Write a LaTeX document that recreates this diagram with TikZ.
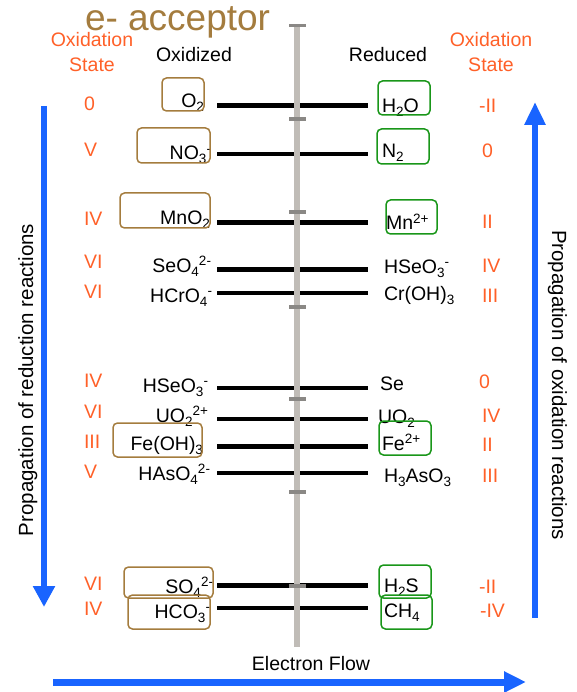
\documentclass[tikz,border=0pt]{standalone}
\usepackage{fontspec}
\usepackage{graphicx}
\setmainfont{Liberation Sans}
\usetikzlibrary{arrows.meta}
\definecolor{orng}{RGB}{255,96,40}
\definecolor{brn}{RGB}{164,124,62}
\definecolor{grn}{RGB}{25,150,25}
\definecolor{blu}{RGB}{25,100,255}
\definecolor{bargray}{RGB}{192,188,183}
\definecolor{tickgray}{RGB}{138,136,133}
\newcommand{\sbx}[1]{\raisebox{-4pt}{\fontsize{13.5}{14}\selectfont #1}}
\newcommand{\spx}[1]{\raisebox{6.5pt}{\fontsize{13.5}{14}\selectfont #1}}
\begin{document}
\begin{tikzpicture}[x=1pt,y=-1pt,
  txt/.style={inner sep=0pt, outer sep=0pt, font=\fontsize{19.5}{20}\selectfont},
  lsp/.style={txt, anchor=base east},
  rsp/.style={txt, anchor=base west},
  onum/.style={txt, text=orng, anchor=base west},
  ohead/.style={txt, text=orng, anchor=base},
  head/.style={txt, anchor=base},
  rot/.style={inner sep=0pt, outer sep=0pt, font=\fontsize{20.5}{21}\selectfont, anchor=base},
  thk/.style={line width=5pt, black},
  thn/.style={line width=4pt, black},
  brnbox/.style={draw=brn, line width=1.5pt, rounded corners=4.5pt},
  grnbox/.style={draw=grn, line width=1.5pt, rounded corners=4.5pt},
  tick/.style={fill=tickgray, draw=none},
  barline/.style={line width=6.5pt, bargray},
  bluarrow/.style={line width=6pt, blu, -{Triangle[length=21pt,width=21pt]}}
  ]
\useasboundingbox (0,0) rectangle (577,692);

% horizontal black lines
\coordinate (a1) at (217,105.5); \coordinate (b1) at (368,105.5);
\coordinate (a2) at (217,154);   \coordinate (b2) at (368,154);
\coordinate (a3) at (217,222.7); \coordinate (b3) at (368,222.7);
\coordinate (a4) at (217,269);   \coordinate (b4) at (368,269);
\coordinate (a5) at (217,293);   \coordinate (b5) at (368,293);
\coordinate (a6) at (217,388);   \coordinate (b6) at (368,388);
\coordinate (a7) at (217,419);   \coordinate (b7) at (368,419);
\coordinate (a8) at (217,446);   \coordinate (b8) at (368,446);
\coordinate (a9) at (217,473);   \coordinate (b9) at (368,473);
\coordinate (a10) at (217,585);  \coordinate (b10) at (368,585);
\coordinate (a11) at (217,607.7);\coordinate (b11) at (368,607.7);
\draw[thk] (a1) -- (b1);
\draw[line width=4.5pt] (a2) -- (b2);
\draw[thk] (a3) -- (b3);
\draw[thk] (a4) -- (b4);
\draw[thn] (a5) -- (b5);
\draw[thn] (a6) -- (b6);
\draw[thn] (a7) -- (b7);
\draw[thk] (a8) -- (b8);
\draw[line width=4.5pt] (a9) -- (b9);
\draw[thk] (a10) -- (b10);
\draw[thn] (a11) -- (b11);

% gray electron bar with ticks
\coordinate (bt) at (297,25);
\coordinate (bb) at (297,647);
\draw[barline] (bt) -- (bb);
\foreach \ty in {25.5,119,212,307,399,492,586}
  \fill[tick] (288.5,\ty-1.75) rectangle (306,\ty+1.75);

% title
\node[txt, anchor=base west, text=brn, font=\fontsize{37}{38}\selectfont, text depth=0pt] (title) at (85,31) {e- acceptor};

% headers
\node[ohead] (ox1) at (92,47) {Oxidation};
\node[ohead] (st1) at (92,72) {State};
\node[ohead] (ox2) at (491,47) {Oxidation};
\node[ohead] (st2) at (491,72) {State};
\node[head] (oxd) at (194,62) {Oxidized};
\node[head] (red) at (388,62) {Reduced};

% left species
\node[lsp] (o2)    at (204,108) {O\sbx{2}};
\node[lsp] (no3)   at (211,160) {NO\sbx{3}\spx{-}};
\node[lsp] (mno2)  at (210,225) {MnO\sbx{2}};
\node[lsp] (seo4)  at (211,272) {SeO\sbx{4}\spx{2-}};
\node[lsp] (hcro4) at (212,302) {HCrO\sbx{4}\spx{-}};
\node[lsp] (hseo3) at (208,392) {HSeO\sbx{3}\spx{-}};
\node[lsp] (uo2p)  at (208,422) {UO\sbx{2}\spx{2+}};
\node[lsp] (feoh3) at (203,450) {Fe(OH)\sbx{3}};
\node[lsp] (haso4) at (210,480) {HAsO\sbx{4}\spx{2-}};
\node[lsp] (so4)   at (213,593) {SO\sbx{4}\spx{2-}};
\node[lsp] (hco3)  at (210,618) {HCO\sbx{3}\spx{-}};

% right species
\node[rsp] (h2o)   at (382,113) {H\sbx{2}O};
\node[rsp] (n2)    at (382,158) {N\sbx{2}};
\node[rsp] (mn)    at (386,230) {Mn\spx{2+}};
\node[rsp] (hseo3r) at (384,273) {HSeO\sbx{3}\spx{-}};
\node[rsp] (croh3) at (384,300) {Cr(OH)\sbx{3}};
\node[rsp] (se)    at (380,390) {Se};
\node[rsp] (uo2)   at (378,423) {UO\sbx{2}};
\node[rsp] (fe)    at (382,450) {Fe\spx{2+}};
\node[rsp] (h3aso3) at (384,482) {H\sbx{3}AsO\sbx{3}};
\node[rsp] (h2s)   at (384,592) {H\sbx{2}S};
\node[rsp] (ch4)   at (384,617) {CH\sbx{4}};

% left oxidation states
\node[onum] (l1)  at (84,111) {0};
\node[onum] (l2)  at (84,157) {V};
\node[onum] (l3)  at (84,226) {IV};
\node[onum] (l4)  at (84,268) {VI};
\node[onum] (l5)  at (84,298) {VI};
\node[onum] (l6)  at (84,387) {IV};
\node[onum] (l7)  at (84,418) {VI};
\node[onum] (l8)  at (84,448) {III};
\node[onum] (l9)  at (84,478) {V};
\node[onum] (l10) at (84,590) {VI};
\node[onum] (l11) at (84,615) {IV};

% right oxidation states
\node[onum] (r1)  at (479,113) {-II};
\node[onum] (r2)  at (482,158) {0};
\node[onum] (r3)  at (482,229) {II};
\node[onum] (r4)  at (482,272) {IV};
\node[onum] (r5)  at (482,302) {III};
\node[onum] (r6)  at (479,388) {0};
\node[onum] (r7)  at (482,422) {IV};
\node[onum] (r8)  at (482,451) {II};
\node[onum] (r9)  at (482,482) {III};
\node[onum] (r10) at (479,593) {-II};
\node[onum] (r11) at (480,617) {-IV};

% highlight boxes
\draw[brnbox] (162,78) rectangle (204,111);
\draw[brnbox] (137,128) rectangle (210,163);
\draw[brnbox] (120,193) rectangle (210,228);
\draw[brnbox] (113,423) rectangle (202,457);
\draw[brnbox] (124,567) rectangle (213,598);
\draw[brnbox] (128,595) rectangle (210,629);
\draw[grnbox] (378,81) rectangle (430,115);
\draw[grnbox] (377,129) rectangle (429,164);
\draw[grnbox] (386,200) rectangle (437,234);
\draw[grnbox] (379,421) rectangle (431,455);
\draw[grnbox] (379,565) rectangle (431,598);
\draw[grnbox] (381,595) rectangle (432,629);

% blue arrows
\coordinate (lt) at (44,106);  \coordinate (lb) at (44,607);
\coordinate (rb) at (535,618); \coordinate (rt) at (535,102);
\coordinate (bl) at (53,682);  \coordinate (br) at (526,682);
\draw[bluarrow] (lt) -- (lb);
\draw[bluarrow, -{Triangle[length=23pt,width=20pt]}] (rb) -- (rt);
\draw[bluarrow, line width=7pt, -{Triangle[length=22pt,width=20pt]}] (bl) -- (br);

% side labels
\node[rot, rotate=90] (redlab) at (33,380) {Propagation of reduction reactions};
\node[rot, rotate=-90] (oxlab) at (552,385) {Propagation of oxidation reactions};
\node[head] (ef) at (311,670) {Electron Flow};
\end{tikzpicture}
\end{document}
